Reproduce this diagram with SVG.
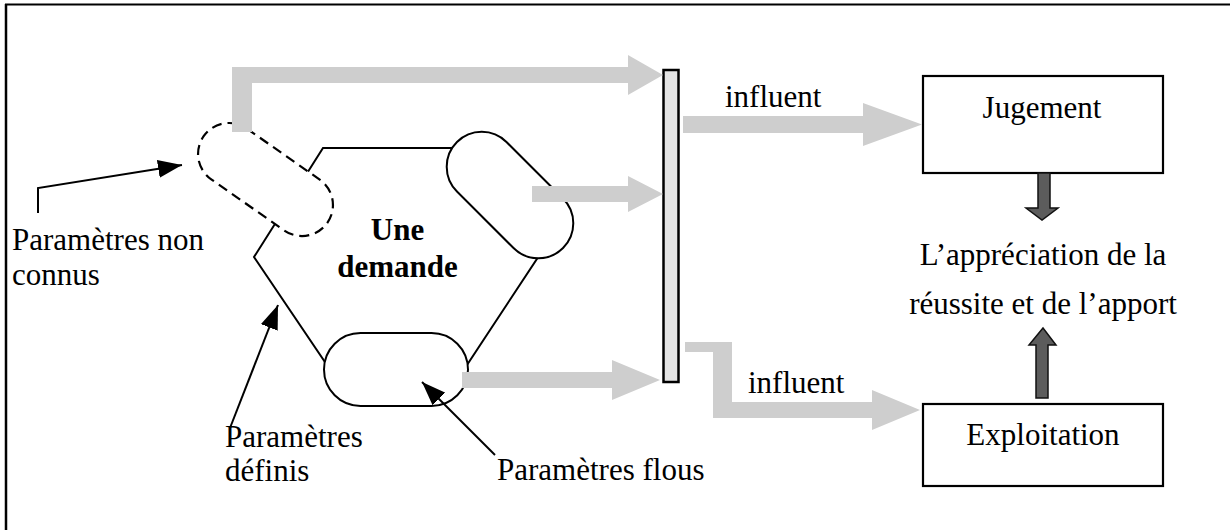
<svg xmlns="http://www.w3.org/2000/svg" width="1230" height="530" viewBox="0 0 1230 530">
<style>
  text { font-family: "Liberation Serif", "Times New Roman", serif; font-size: 31px; fill: #000; }
  .bold { font-weight: bold; }
  .mid { text-anchor: middle; }
  .line { fill: none; stroke: #000; stroke-width: 2; }
  .shape { fill: #fff; stroke: #000; stroke-width: 2; }
  .dashed { fill: #fff; stroke: #000; stroke-width: 2.2; stroke-dasharray: 10 6; }
  .gray { fill: #cecece; stroke: none; }
  .dark { fill: #5c5c5c; stroke: #111; stroke-width: 1.5; }
  .box { fill: #fff; stroke: #000; stroke-width: 2.2; }
</style>
<defs>
  <marker id="head" viewBox="0 -9 24 18" refX="24" refY="0" markerWidth="24" markerHeight="18" markerUnits="userSpaceOnUse" orient="auto">
    <path d="M0,-9 L24,0 L0,9 Z" fill="#000"/>
  </marker>
</defs>
<rect width="1230" height="530" fill="#fff"/>
<g id="frame">
  <line x1="6" y1="4" x2="6" y2="530" stroke="#000" stroke-width="2.5"/>
  <line x1="5" y1="4.5" x2="1230" y2="4.5" stroke="#000" stroke-width="2"/>
</g>

<g id="demande">
  <polygon class="shape" points="323,148 470,148 556,230 465,368 329,368 254,257"/>
  <text class="bold mid" x="397.5" y="240">Une</text>
  <text class="bold mid" x="397.5" y="277">demande</text>
</g>
<g id="parametres-non-connus">
  <rect class="dashed" x="-75.5" y="-31" width="151" height="62" rx="31" transform="translate(265.5,179.5) rotate(35)"/>
</g>
<g id="parametre-droite">
  <rect class="shape" x="-75" y="-35" width="150" height="70" rx="35" transform="translate(510,195) rotate(45)"/>
</g>
<g id="parametres-flous">
  <rect class="shape" x="324" y="333" width="144" height="73" rx="36.5"/>
</g>
<g id="barre">
  <rect x="663.5" y="70" width="15" height="312" fill="#e4e4e4" stroke="#000" stroke-width="2.5"/>
</g>
<g id="jugement">
  <rect class="box" x="923" y="76" width="240" height="97"/>
  <text class="mid" x="1042" y="118">Jugement</text>
</g>
<g id="appreciation">
  <text class="mid" x="1043" y="265">L’appréciation de la</text>
  <text class="mid" x="1043" y="314">réussite et de l’apport</text>
</g>
<g id="exploitation">
  <rect class="box" x="923" y="404" width="240" height="82"/>
  <text class="mid" x="1043" y="445">Exploitation</text>
</g>
<g id="labels">
  <text x="12" y="250">Paramètres non</text>
  <text x="12" y="285">connus</text>
  <text x="225" y="447">Paramètres</text>
  <text x="225" y="481">définis</text>
  <text x="497" y="480">Paramètres flous</text>
  <text x="725" y="107">influent</text>
  <text x="748" y="393">influent</text>
</g>

<g id="connectors">
  <path class="gray" d="M232,132 L232,67 L628,67 L628,55 L663,75 L628,95 L628,83 L252,83 L252,132 Z"/>
  <path class="gray" d="M532,186 L628,186 L628,176 L663,194 L628,212 L628,202 L532,202 Z"/>
  <path class="gray" d="M462,372 L612,372 L612,360 L660,380 L612,400 L612,388 L462,388 Z"/>
  <path class="gray" d="M683,116 L863,116 L863,103 L922,124.5 L863,146 L863,133 L683,133 Z"/>
  <path class="gray" d="M685,342 L732,342 L732,402 L872,402 L872,390 L920,410 L872,430 L872,418 L713,418 L713,352 L685,352 Z"/>
  <path class="dark" d="M1038,173 L1050,173 L1050,208 L1058,208 L1042,220 L1026,208 L1038,208 Z"/>
  <path class="dark" d="M1036,398 L1048,398 L1048,345 L1056,345 L1043,328 L1029,345 L1036,345 Z"/>
  <polyline class="line" points="38,213 38,188 182,165" marker-end="url(#head)"/>
  <line class="line" x1="230" y1="428" x2="278" y2="305" marker-end="url(#head)"/>
  <line class="line" x1="495" y1="455" x2="422" y2="382" marker-end="url(#head)"/>
</g>
</svg>
